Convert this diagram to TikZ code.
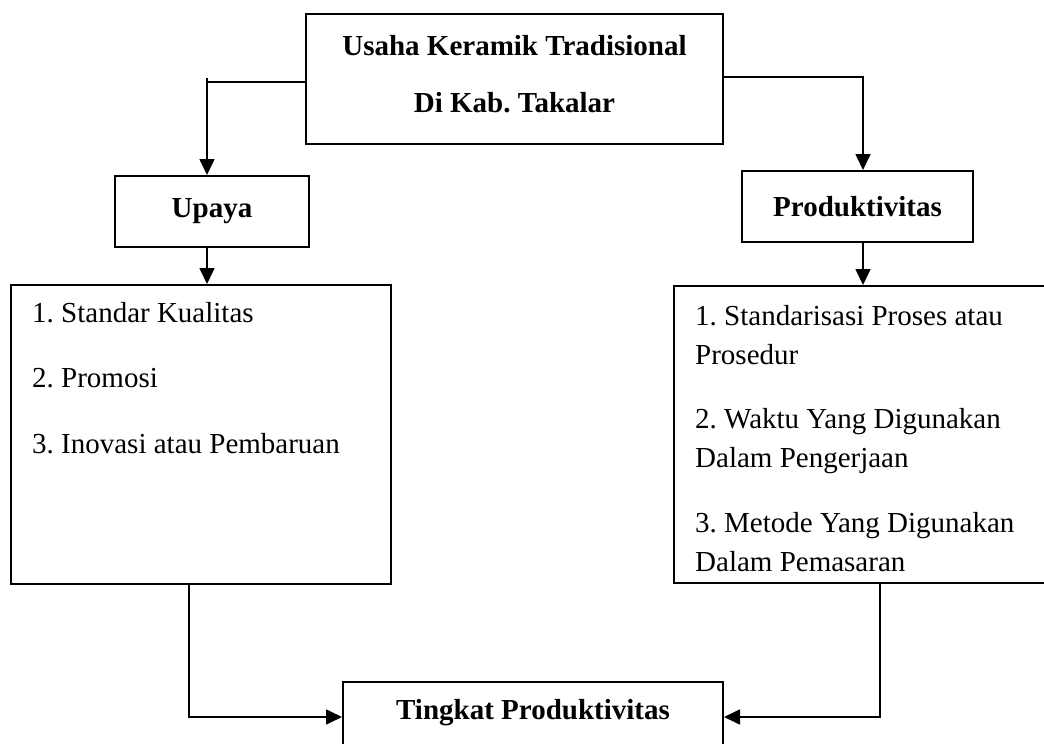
\documentclass[tikz,border=0pt]{standalone}
\usepackage{fontspec}
\setmainfont{Liberation Serif}
\usetikzlibrary{arrows.meta}
\frenchspacing

\tikzset{
  box/.style={draw, line width=2pt, inner sep=0pt},
  conn/.style={line width=1.7pt},
  arr/.style={conn, -{Triangle[length=16pt,width=15pt]}},
  boldtext/.style={font=\fontsize{29}{57}\selectfont\bfseries},
  itemtext/.style={anchor=base west, align=left, inner sep=0pt,
    font=\fontsize{29}{39}\selectfont}
}

\begin{document}
\begin{tikzpicture}[x=1pt,y=-1pt]
    \clip (0,0) rectangle (1044,744);

    % kotak utama
    \node[box, minimum width=417pt, minimum height=130pt] (usaha) at (514.5,79) {};
    \node[boldtext, align=center, inner sep=0pt] (usahatxt) at (514.5,74) {Usaha Keramik Tradisional\\Di Kab. Takalar};

    \node[box, boldtext, minimum width=194pt, minimum height=71pt] (upaya) at (212,211.5) {Upaya};
    \node[box, boldtext, minimum width=231pt, minimum height=71pt] (produk) at (857.5,206.5) {Produktivitas};

    % daftar kiri
    \node[box, minimum width=380pt, minimum height=299pt] (kiri) at (201,434.5) {};
    \node[itemtext] (kiri1) at (32,322) {1. Standar Kualitas};
    \node[itemtext] (kiri2) at (32,387) {2. Promosi};
    \node[itemtext] (kiri3) at (32,453) {3. Inovasi atau Pembaruan};

    % daftar kanan (base = baris terakhir)
    \node[box, minimum width=390pt, minimum height=297pt] (kanan) at (869,434.5) {};
    \node[itemtext] (kanan1) at (695,364) {1. Standarisasi Proses atau\\Prosedur};
    \node[itemtext] (kanan2) at (695,467) {2. Waktu Yang Digunakan\\Dalam Pengerjaan};
    \node[itemtext] (kanan3) at (695,571) {3. Metode Yang Digunakan\\Dalam Pemasaran};

    % kotak bawah
    \node[box, boldtext, anchor=north, text height=37pt, text depth=33pt, minimum width=380pt] (tingkat) at (533,681) {Tingkat Produktivitas};

    \coordinate (kiriatas) at (207,78);
    \coordinate (kananatas) at (863,77);
    \coordinate (kiribawah) at (189,716);
    \coordinate (kananbawah) at (880,716);

    % usaha -> upaya
    \draw[conn] (usaha.west |- 0,82) -- (kiriatas |- 0,82);
    \draw[arr] (kiriatas) -- (kiriatas |- upaya.north);

    % usaha -> produktivitas
    \draw[arr] (usaha.east |- kananatas) -| (kananatas |- produk.north);

    % upaya -> kiri, produktivitas -> kanan
    \draw[arr] (kiriatas |- upaya.south) -- (kiriatas |- kiri.north);
    \draw[arr] (kananatas |- produk.south) -- (kananatas |- kanan.north);

    % kiri, kanan -> tingkat
    \draw[arr] (kiribawah |- kiri.south) |- (tingkat.west);
    \draw[arr] (kananbawah |- kanan.south) |- (tingkat.east);
\end{tikzpicture}
\end{document}
